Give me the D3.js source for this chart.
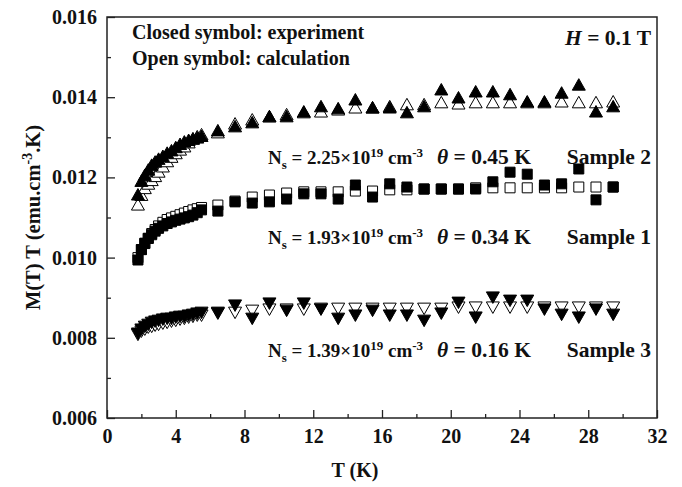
<!DOCTYPE html>
<html>
<head>
<meta charset="utf-8">
<script src="https://cdn.jsdelivr.net/npm/d3@7/dist/d3.min.js"></script>
<style>
  html, body { margin: 0; padding: 0; background: #fff; }
  svg { display: block; }
  text { font-family: "Liberation Serif", "Times New Roman", serif; font-weight: bold; fill: #111; }
</style>
</head>
<body>
<svg id="chart" width="682" height="487"></svg>
<script>
// Temperatures (K): dense sweep at low T, then 1 K steps
const temperature = [1.8, 2.0, 2.2, 2.4, 2.6, 2.8, 3.0, 3.25, 3.5, 3.75, 4.0, 4.25, 4.5, 4.75, 5.0, 5.25, 5.5,
  6.45, 7.45, 8.45, 9.45, 10.45, 11.45, 12.45, 13.45, 14.45, 15.45, 16.45, 17.45, 18.45, 19.45,
  20.45, 21.45, 22.45, 23.45, 24.45, 25.45, 26.45, 27.45, 28.45, 29.45];

// Sample 2 (triangles up)
const sample2Exp = [0.01156, 0.01190, 0.01205, 0.01218, 0.01230, 0.01238, 0.01245, 0.01252, 0.01260, 0.01266, 0.01274, 0.01282, 0.01288, 0.01292, 0.01295, 0.01298, 0.01302,
  0.01316, 0.01326, 0.01336, 0.01351, 0.01351, 0.01363, 0.01376, 0.01371, 0.01393, 0.01373, 0.01373, 0.01361, 0.01376, 0.01418,
  0.01398, 0.01413, 0.01413, 0.01406, 0.01388, 0.01388, 0.01410, 0.01430, 0.01363, 0.01376];
const sample2Calc = [0.01131, 0.01155, 0.01172, 0.01183, 0.01192, 0.01202, 0.01213, 0.01226, 0.01239, 0.01250, 0.01259, 0.01268, 0.01276, 0.01286, 0.01296, 0.01301, 0.01306,
  0.01311, 0.01333, 0.01343, 0.01351, 0.01356, 0.01361, 0.01363, 0.01368, 0.01373, 0.01373, 0.01376, 0.01381, 0.01381, 0.01386,
  0.01383, 0.01386, 0.01386, 0.01386, 0.01386, 0.01386, 0.01388, 0.01386, 0.01386, 0.01388];

// Sample 1 (squares)
const sample1Exp = [0.00994, 0.01020, 0.01036, 0.01048, 0.01057, 0.01066, 0.01073, 0.01079, 0.01085, 0.01089, 0.01093, 0.01096, 0.01099, 0.01102, 0.01106, 0.01112, 0.01119,
  0.01116, 0.01139, 0.01136, 0.01139, 0.01146, 0.01159, 0.01159, 0.01146, 0.01181, 0.01151, 0.01184, 0.01176, 0.01171, 0.01171,
  0.01171, 0.01171, 0.01189, 0.01213, 0.01208, 0.01181, 0.01184, 0.01221, 0.01144, 0.01176];
const sample1Calc = [0.01000, 0.01020, 0.01035, 0.01048, 0.01060, 0.01070, 0.01079, 0.01088, 0.01095, 0.01099, 0.01103, 0.01107, 0.01111, 0.01115, 0.01119, 0.01122, 0.01125,
  0.01131, 0.01141, 0.01151, 0.01156, 0.01161, 0.01164, 0.01164, 0.01164, 0.01166, 0.01166, 0.01169, 0.01169, 0.01171, 0.01171,
  0.01171, 0.01174, 0.01174, 0.01174, 0.01174, 0.01174, 0.01174, 0.01176, 0.01176, 0.01176];

// Sample 3 (triangles down)
const sample3Exp = [0.00812, 0.00822, 0.00829, 0.00834, 0.00839, 0.00842, 0.00844, 0.00847, 0.00849, 0.00849, 0.00852, 0.00854, 0.00854, 0.00857, 0.00859, 0.00862, 0.00864,
  0.00864, 0.00882, 0.00849, 0.00887, 0.00869, 0.00887, 0.00872, 0.00849, 0.00857, 0.00869, 0.00857, 0.00857, 0.00844, 0.00862,
  0.00889, 0.00852, 0.00902, 0.00894, 0.00894, 0.00872, 0.00859, 0.00852, 0.00872, 0.00859];
const sample3Calc = [0.00809, 0.00817, 0.00822, 0.00827, 0.00829, 0.00832, 0.00834, 0.00837, 0.00839, 0.00842, 0.00844, 0.00847, 0.00849, 0.00852, 0.00854, 0.00857, 0.00857,
  0.00862, 0.00864, 0.00869, 0.00872, 0.00872, 0.00872, 0.00874, 0.00874, 0.00874, 0.00874, 0.00874, 0.00874, 0.00874, 0.00874,
  0.00877, 0.00877, 0.00877, 0.00877, 0.00877, 0.00877, 0.00877, 0.00877, 0.00877, 0.00877];

const xTicks = [0, 4, 8, 12, 16, 20, 24, 28, 32];
const yTicks = [0.006, 0.008, 0.010, 0.012, 0.014, 0.016];

const margin = { left: 107, right: 25, top: 17, bottom: 69 };
const W = 682, H = 487;
const svg = d3.select("#chart");

const x = d3.scaleLinear().domain([0, 32]).range([margin.left, W - margin.right]);
const y = d3.scaleLinear().domain([0.006, 0.016]).range([H - margin.bottom, margin.top]);

// Axes with inward ticks
const gx = svg.append("g").attr("transform", `translate(0,${y(0.006)})`);
gx.call(d3.axisBottom(x).tickValues(d3.range(2, 32, 4)).tickSize(-4).tickFormat(""));
gx.call(g => g.append("g").call(d3.axisBottom(x).tickValues(xTicks).tickSize(-8).tickPadding(11).tickFormat(d3.format("d"))));
const gy = svg.append("g").attr("transform", `translate(${x(0)},0)`);
gy.call(d3.axisLeft(y).tickValues(d3.range(0.007, 0.0155, 0.002)).tickSize(-4).tickFormat(""));
gy.call(g => g.append("g").call(d3.axisLeft(y).tickValues(yTicks).tickSize(-8).tickPadding(10).tickFormat(d3.format(".3f"))));
svg.selectAll(".domain").remove();
svg.selectAll(".tick line").attr("stroke", "#222").attr("stroke-width", 1.3);
svg.selectAll(".tick text").attr("font-size", 20).attr("font-family", "Liberation Serif").attr("font-weight", "bold").attr("fill", "#111");

// Frame
svg.append("rect")
  .attr("x", x(0)).attr("y", y(0.016))
  .attr("width", x(32) - x(0)).attr("height", y(0.006) - y(0.016))
  .attr("fill", "none").attr("stroke", "#222").attr("stroke-width", 1.5);

// Marker shapes
const shapes = {
  up: "M0,-6.5L6.5,5L-6.5,5Z",
  down: "M0,6.5L6.5,-5L-6.5,-5Z",
  square: "M-5,-5H5V5H-5Z"
};

function drawSeries(values, shape, filled) {
  svg.append("g").selectAll("path")
    .data(values.map((v, i) => [temperature[i], v]))
    .join("path")
    .attr("d", shapes[shape])
    .attr("transform", d => `translate(${x(d[0])},${y(d[1])})`)
    .attr("fill", filled ? "#000" : "#fff")
    .attr("stroke", "#000")
    .attr("stroke-width", 1);
}

// calculation (open) beneath, experiment (closed) on top
drawSeries(sample2Calc, "up", false);
drawSeries(sample1Calc, "square", false);
drawSeries(sample3Calc, "down", false);
drawSeries(sample2Exp, "up", true);
drawSeries(sample1Exp, "square", true);
drawSeries(sample3Exp, "down", true);

// Annotations
svg.append("text").attr("x", 132).attr("y", 39).attr("font-size", 20).text("Closed symbol: experiment");
svg.append("text").attr("x", 132).attr("y", 65).attr("font-size", 20).text("Open symbol: calculation");
const hTxt = svg.append("text").attr("x", 651).attr("y", 45).attr("font-size", 21.5).attr("text-anchor", "end");
hTxt.append("tspan").attr("font-style", "italic").text("H");
hTxt.append("tspan").text(" = 0.1 T");

const samples = [
  { ns: "2.25", theta: "0.45", name: "Sample 2", yText: 164 },
  { ns: "1.93", theta: "0.34", name: "Sample 1", yText: 244 },
  { ns: "1.39", theta: "0.16", name: "Sample 3", yText: 357 }
];
samples.forEach(s => {
  const t = svg.append("text").attr("x", 268).attr("y", s.yText).attr("font-size", 19);
  t.append("tspan").text("N");
  t.append("tspan").attr("font-size", 13).attr("dy", 5).text("s");
  t.append("tspan").attr("dy", -5).text(" = " + s.ns + "\u00d710");
  t.append("tspan").attr("font-size", 13).attr("dy", -7).text("19");
  t.append("tspan").attr("dy", 7).text(" cm");
  t.append("tspan").attr("font-size", 13).attr("dy", -7).text("-3");
  const th = svg.append("text").attr("x", 437).attr("y", s.yText).attr("font-size", 21.5);
  th.append("tspan").attr("font-style", "italic").text("\u03b8");
  th.append("tspan").text(" = " + s.theta + " K");
  svg.append("text").attr("x", 651).attr("y", s.yText).attr("font-size", 21.5).attr("text-anchor", "end").text(s.name);
});

// Axis titles
svg.append("text").attr("x", 355).attr("y", 477).attr("font-size", 20)
  .attr("text-anchor", "middle").text("T (K)");
const yt = svg.append("text").attr("transform", `translate(40,${(y(0.006) + y(0.016)) / 2}) rotate(-90)`)
  .attr("font-size", 20.5).attr("text-anchor", "middle");
yt.append("tspan").text("M(T) T (emu.cm");
yt.append("tspan").attr("font-size", 14).attr("dy", -8).text("-3");
yt.append("tspan").attr("dy", 8).text(".K)");
</script>
</body>
</html>
